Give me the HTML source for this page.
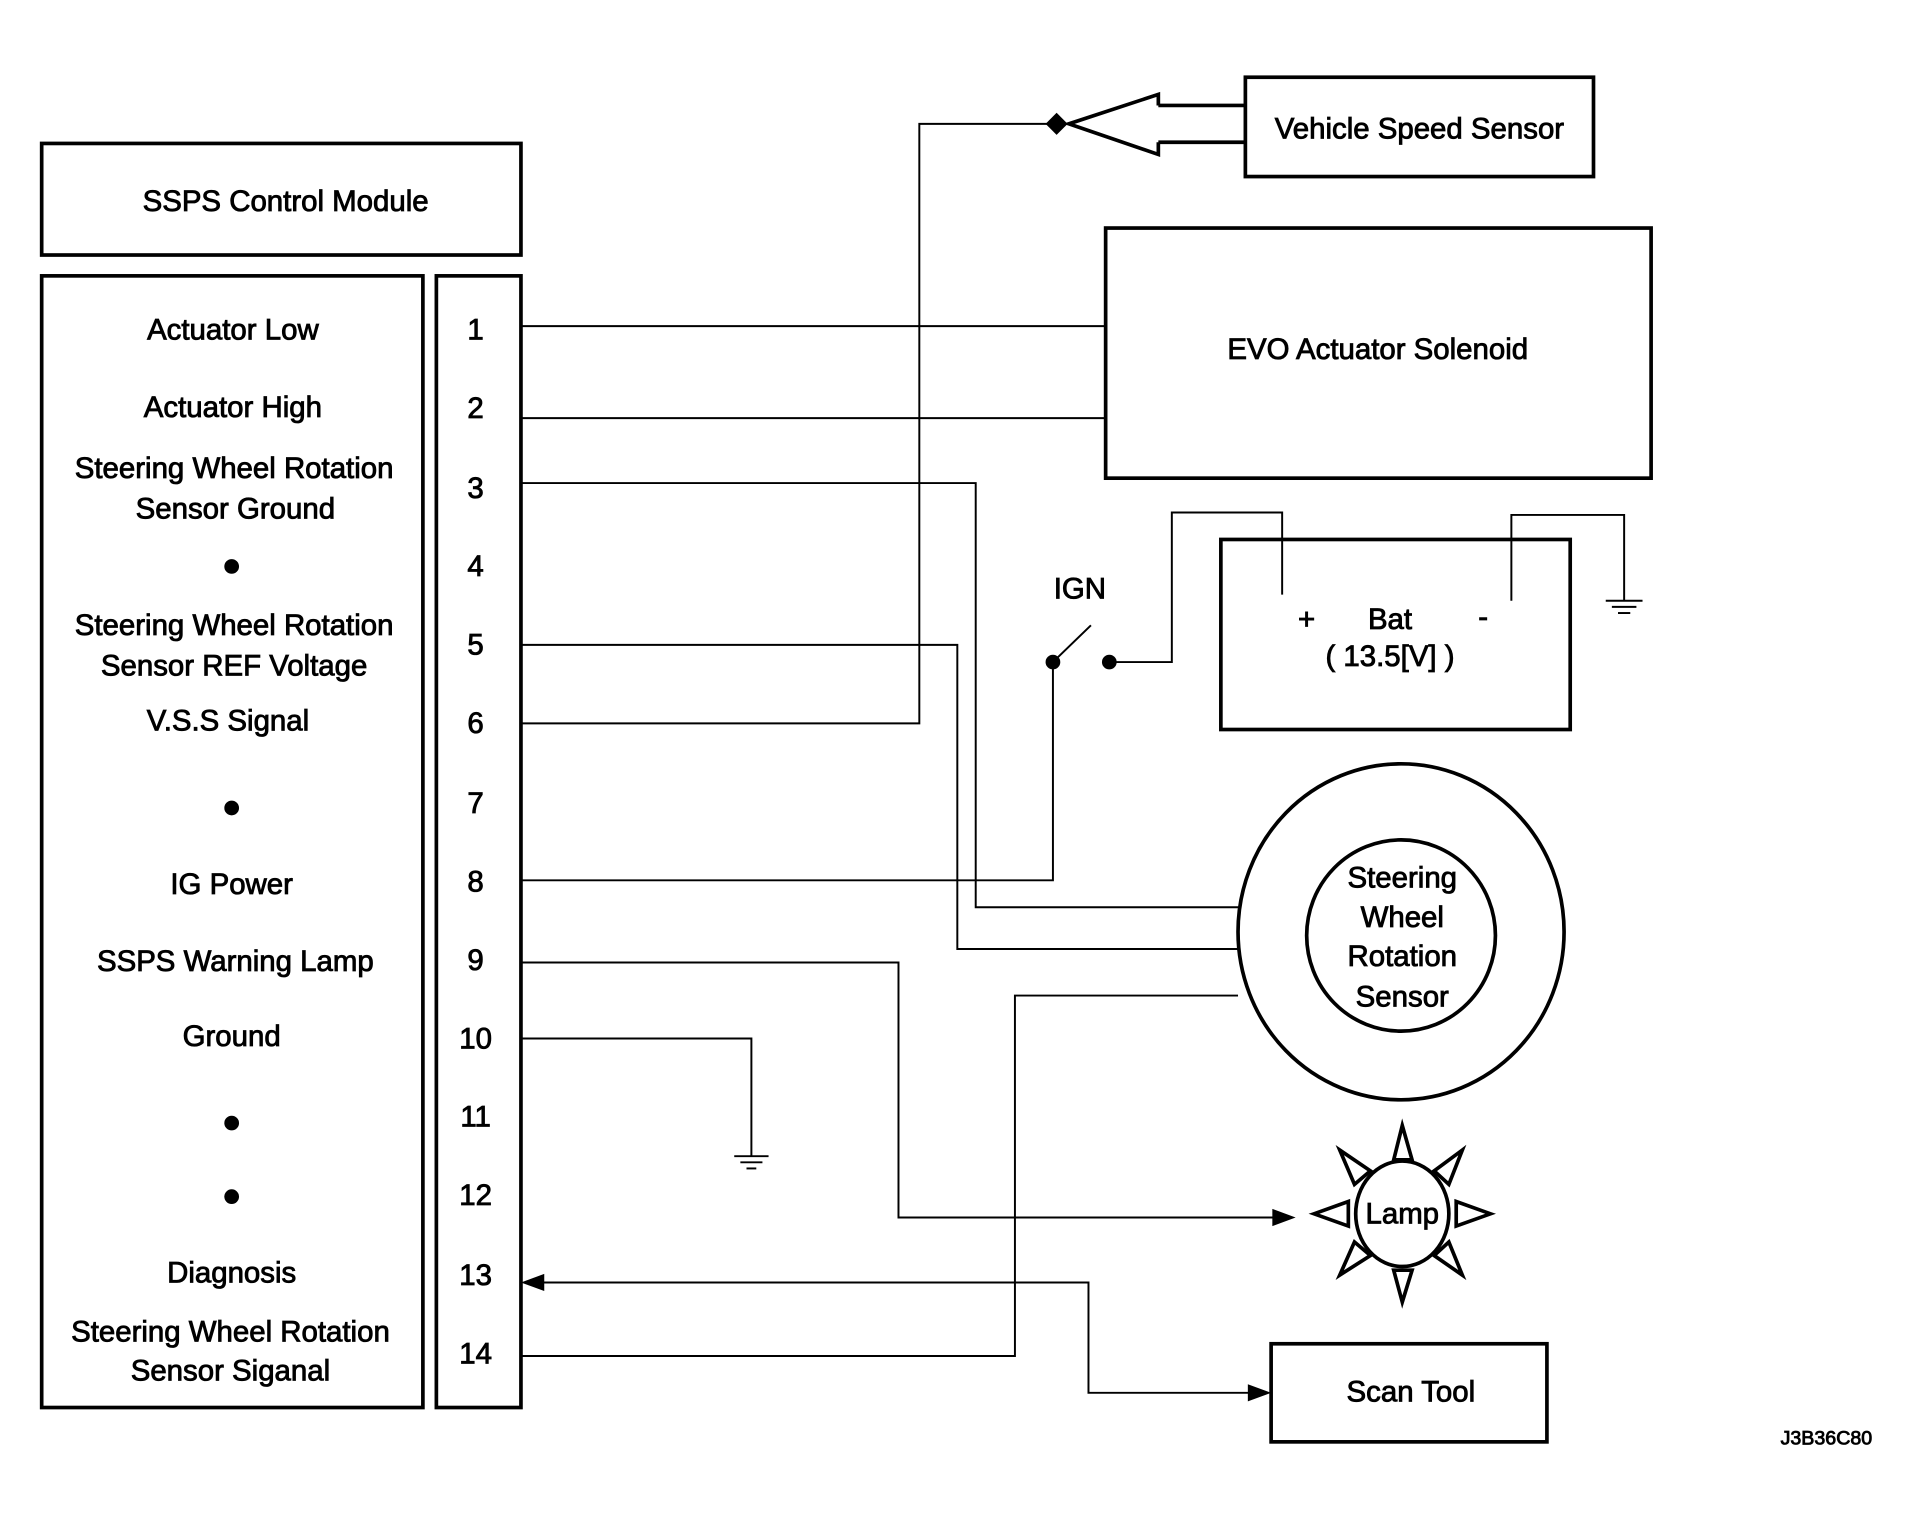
<!DOCTYPE html>
<html><head><meta charset="utf-8"><style>html,body{margin:0;padding:0;background:#fff}svg{display:block}</style></head><body>
<svg width="1922" height="1524" viewBox="0 0 1568 1243" preserveAspectRatio="none" xmlns="http://www.w3.org/2000/svg" font-family="Liberation Sans, sans-serif" font-size="24">
<g fill="none" stroke="#000" stroke-width="3">
<rect x="34" y="117" width="391" height="91"/>
<rect x="34" y="225" width="311" height="923"/>
<rect x="356" y="225" width="69" height="923"/>
<rect x="1016" y="63" width="284" height="81"/>
<rect x="902" y="186" width="445" height="204"/>
<rect x="996" y="440" width="285" height="155"/>
<ellipse cx="1143" cy="760" rx="133" ry="137"/>
<ellipse cx="1143" cy="763" rx="77" ry="78"/>
<rect x="1037" y="1096" width="225" height="80"/>
<ellipse cx="1144" cy="990" rx="38" ry="43"/>
<polygon points="1144,918 1137,946 1152,946"/>
<polygon points="1144,1062 1137,1036 1152,1036"/>
<polygon points="1072,990 1100,980 1100,1000"/>
<polygon points="1216,990 1188,980 1188,1000"/>
<polygon points="1093,938 1118,955 1105,966"/>
<polygon points="1193,938 1170,955 1182,966"/>
<polygon points="1093,1040 1118,1024 1105,1013"/>
<polygon points="1193,1040 1170,1024 1182,1013"/>
<polyline points="945,86 1016,86"/>
<polyline points="945,116 1016,116"/>
<polyline points="945,86 945,77 872,101 945,126 945,116"/>
</g>
<g fill="none" stroke="#000" stroke-width="1.6">
<line x1="425" y1="266" x2="902" y2="266"/>
<line x1="425" y1="341" x2="902" y2="341"/>
<polyline points="425,394 796,394 796,740 1012,740"/>
<polyline points="425,526 781,526 781,774 1010,774"/>
<polyline points="425,590 750,590 750,101 862,101"/>
<polyline points="425,718 859,718 859,540"/>
<line x1="859" y1="540" x2="890" y2="510"/>
<polyline points="905,540 956,540 956,418 1046,418 1046,485"/>
<polyline points="1233,490 1233,420 1325,420 1325,490"/>
<line x1="1310" y1="490" x2="1340" y2="490"/><line x1="1315" y1="495" x2="1335" y2="495"/><line x1="1320" y1="500" x2="1330" y2="500"/>
<polyline points="425,1106 828,1106 828,812 1010,812"/>
<polyline points="425,785 733,785 733,993 1040,993"/>
<polyline points="425,847 613,847 613,943"/>
<line x1="599" y1="943" x2="627" y2="943"/><line x1="604" y1="948" x2="622" y2="948"/><line x1="609" y1="953" x2="617" y2="953"/>
<polyline points="440,1046 888,1046 888,1136 1022,1136"/>
</g>
<g fill="#000">
<polygon points="862,92 871,101 862,110 853,101"/>
<circle cx="859" cy="540" r="6"/><circle cx="905" cy="540" r="6"/>
<polygon points="1057,993 1038,986 1038,1000"/>
<polygon points="1037,1136 1018,1129 1018,1143"/>
<polygon points="425,1046 444,1039 444,1053"/>
<circle cx="189" cy="462" r="6"/><circle cx="189" cy="659" r="6"/><circle cx="189" cy="916" r="6"/><circle cx="189" cy="976" r="6"/>
</g>
<g fill="#000" stroke="#000" stroke-width="0.7" text-anchor="middle">
<text x="233" y="172">SSPS Control Module</text>
<text x="190" y="277">Actuator Low</text>
<text x="190" y="340">Actuator High</text>
<text x="191" y="390">Steering Wheel Rotation</text>
<text x="192" y="423">Sensor Ground</text>
<text x="191" y="518">Steering Wheel Rotation</text>
<text x="191" y="551">Sensor REF Voltage</text>
<text x="186" y="596">V.S.S Signal</text>
<text x="189" y="729">IG Power</text>
<text x="192" y="792">SSPS Warning Lamp</text>
<text x="189" y="853">Ground</text>
<text x="189" y="1046">Diagnosis</text>
<text x="188" y="1094">Steering Wheel Rotation</text>
<text x="188" y="1126">Sensor Siganal</text>
<text x="388" y="277">1</text><text x="388" y="341">2</text><text x="388" y="406">3</text><text x="388" y="470">4</text><text x="388" y="534">5</text><text x="388" y="598">6</text><text x="388" y="663">7</text><text x="388" y="727">8</text><text x="388" y="791">9</text><text x="388" y="855">10</text><text x="388" y="919">11</text><text x="388" y="983">12</text><text x="388" y="1048">13</text><text x="388" y="1112">14</text>
<text x="1158" y="113">Vehicle Speed Sensor</text>
<text x="1124" y="293">EVO Actuator Solenoid</text>
<text x="881" y="488">IGN</text>
<text x="1066" y="513">+</text><text x="1134" y="513">Bat</text><text x="1210" y="511">-</text>
<text x="1134" y="543">( 13.5[V] )</text>
<text x="1144" y="724">Steering</text><text x="1144" y="756">Wheel</text><text x="1144" y="788">Rotation</text><text x="1144" y="821">Sensor</text>
<text x="1144" y="998">Lamp</text>
<text x="1151" y="1143">Scan Tool</text>
<text x="1490" y="1178" font-size="16">J3B36C80</text>
</g>
</svg>
</body></html>
